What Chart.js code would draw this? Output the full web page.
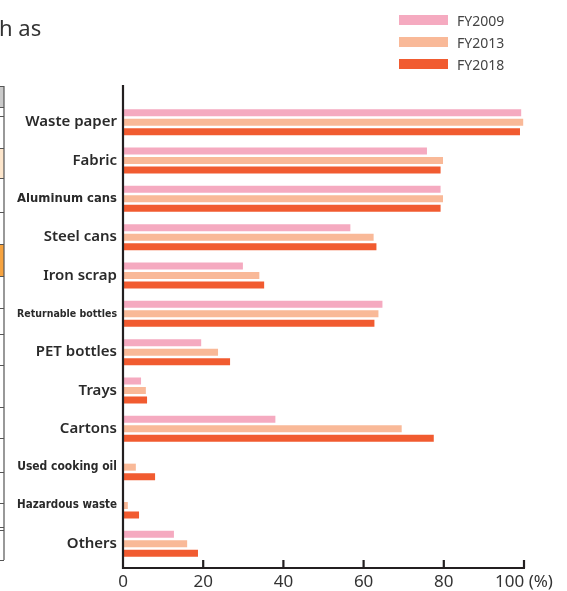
<!DOCTYPE html>
<html>
<head>
<meta charset="utf-8">
<script src="https://cdn.jsdelivr.net/npm/chart.js@4"></script>
<style>
  html, body { margin: 0; padding: 0; background: #fff; }
  #wrap { position: relative; width: 567px; height: 591px; overflow: hidden; }
  #legend { position: absolute; left: 399px; top: 9px; font: 14px "Noto Sans", sans-serif; color: #444; }
  #legend .row { height: 22px; display: flex; align-items: center; }
  #legend .box { width: 49px; height: 10px; margin-right: 9px; }
</style>
</head>
<body>
<div id="wrap">
  <canvas id="recycleChart" width="567" height="591"></canvas>
  <div id="legend"></div>
</div>
<script>
const categories = ["Waste paper", "Fabric", "Aluminum cans", "Steel cans", "Iron scrap",
  "Returnable bottles", "PET bottles", "Trays", "Cartons", "Used cooking oil",
  "Hazardous waste", "Others"];
const fy2009 = [99.3, 75.8, 79.2, 56.7, 29.9, 64.7, 19.5, 4.5, 38.0, null, null, 12.7];
const fy2013 = [99.8, 79.8, 79.8, 62.5, 34.0, 63.7, 23.7, 5.7, 69.5, 3.2, 1.2, 16.0];
const fy2018 = [99.0, 79.2, 79.2, 63.2, 35.2, 62.7, 26.7, 6.0, 77.5, 8.0, 4.0, 18.7];
const xTickLabels = ["0", "20", "40", "60", "80", "100 (%)"];

const labelFamily = '"Noto Sans", sans-serif';
const narrowFamily = '"Liberation Sans Narrow", "DejaVu Sans Condensed", "Noto Sans", sans-serif';

// long labels switch to a narrow face and get squeezed to fit in front of the axis
const measure = document.createElement("canvas").getContext("2d");
const labelFonts = categories.map(c => {
  measure.font = "600 15px " + labelFamily;
  if (measure.measureText(c).width <= 100) return { family: labelFamily, size: 15 };
  measure.font = "600 15px " + narrowFamily;
  const w = measure.measureText(c).width;
  return { family: narrowFamily, size: Math.min(15, 15 * 100 / w) };
});

// the axis sits a little outside the bar area, like in the print version
const axisLines = {
  id: "axisLines",
  afterDatasetsDraw(chart) {
    const { ctx, chartArea: a, scales: { x } } = chart;
    const base = a.bottom + 5;
    ctx.save();
    ctx.strokeStyle = "#231f20";
    ctx.lineWidth = 2.2;
    ctx.beginPath();
    ctx.moveTo(a.left, a.top - 18);
    ctx.lineTo(a.left, base);
    ctx.lineTo(x.getPixelForValue(100) + 1, base);
    x.ticks.forEach(t => {
      if (t.value > 0) {
        const px = x.getPixelForValue(t.value);
        ctx.moveTo(px, base);
        ctx.lineTo(px, base - 8);
      }
    });
    ctx.stroke();
    ctx.restore();
  }
};

// bits of the page around the figure that show in the crop
const pageBits = {
  id: "pageBits",
  afterDraw(chart) {
    const ctx = chart.ctx;
    ctx.save();
    ctx.fillStyle = "#333";
    ctx.font = "22px " + labelFamily;
    ctx.textBaseline = "alphabetic";
    ctx.fillText("h as", -1, 36);

    ctx.fillStyle = "#cacaca";
    ctx.fillRect(0, 87, 4, 20);
    ctx.fillStyle = "#fde6cc";
    ctx.fillRect(0, 148, 4, 30);
    ctx.fillStyle = "#f6a33f";
    ctx.fillRect(0, 244, 4, 32);
    ctx.strokeStyle = "#555";
    ctx.lineWidth = 1.2;
    ctx.beginPath();
    ctx.moveTo(4, 86);
    ctx.lineTo(4, 560);
    [86, 107, 116, 148, 178, 212, 244, 276, 308, 334, 365, 407, 438, 472, 503, 527, 530, 560].forEach(y => {
      ctx.moveTo(0, y + 0.5);
      ctx.lineTo(4, y + 0.5);
    });
    ctx.stroke();
    ctx.restore();
  }
};

const chart = new Chart(document.getElementById("recycleChart"), {
  type: "bar",
  data: {
    labels: categories,
    datasets: [
      { label: "FY2009", data: fy2009, backgroundColor: "#f5aac0" },
      { label: "FY2013", data: fy2013, backgroundColor: "#f9b998" },
      { label: "FY2018", data: fy2018, backgroundColor: "#f15b30" }
    ]
  },
  options: {
    indexAxis: "y",
    responsive: false,
    animation: false,
    layout: { padding: { top: 103, right: 43, left: 0, bottom: 0 } },
    datasets: {
      bar: { categoryPercentage: 0.743, barPercentage: 0.74, borderWidth: 0 }
    },
    scales: {
      x: {
        min: 0,
        max: 100,
        grid: { display: false, drawTicks: false, tickLength: 0 },
        border: { display: false },
        ticks: {
          stepSize: 20,
          padding: 9,
          color: "#333",
          font: { family: labelFamily, size: 17 },
          maxRotation: 0,
          callback: (v, i) => xTickLabels[i]
        },
        afterFit: s => { s.height = 28; }
      },
      y: {
        grid: { display: false, drawTicks: false, tickLength: 0 },
        border: { display: false },
        ticks: {
          padding: 6,
          color: "#2a2a2a",
          font: ctx => ({ family: labelFonts[ctx.index].family, size: labelFonts[ctx.index].size, weight: "600" })
        },
        afterFit: s => { s.width = 123; }
      }
    },
    plugins: {
      legend: { display: false },
      tooltip: { enabled: false }
    }
  },
  plugins: [axisLines, pageBits]
});

// legend in the top right corner, one series per row
const legendEl = document.getElementById("legend");
Chart.defaults.plugins.legend.labels.generateLabels(chart).forEach(item => {
  const row = document.createElement("div");
  row.className = "row";
  const box = document.createElement("span");
  box.className = "box";
  box.style.background = item.fillStyle;
  const txt = document.createElement("span");
  txt.textContent = item.text;
  row.appendChild(box);
  row.appendChild(txt);
  legendEl.appendChild(row);
});
</script>
</body>
</html>
